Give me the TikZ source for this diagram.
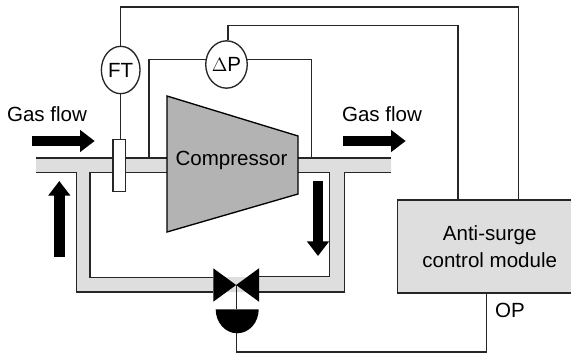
\documentclass[tikz,border=0pt]{standalone}
\usepackage{fontspec}
\setmainfont{Liberation Sans}
\usetikzlibrary{arrows.meta,calc,shapes.geometric}
\definecolor{pipegray}{RGB}{222,222,222}
\definecolor{compgray}{RGB}{179,179,179}
\tikzset{
	wire/.style={draw=black!85, line width=1pt},
	meter/.style={ellipse, draw=black!85, line width=1pt, fill=white, inner sep=0pt, minimum width=29pt, minimum height=35.5pt, font=\fontsize{15.4}{18}\selectfont},
	flowarrow/.style={line width=8pt, -{Triangle[length=11pt, width=16pt]}},
	label/.style={font=\fontsize{15.4}{18}\selectfont, inner sep=0pt}
}

\begin{document}
\begin{tikzpicture}[x=0.75pt, y=-0.75pt]
				\clip (0,0) rectangle (571,353);
				\fill[pipegray] (36,158) -- (391,158) -- (391,172.5) -- (344.7,172.5) -- (344.7,292) -- (76.7,292) -- (76.7,172.5) -- (36,172.5) -- cycle;
				\fill[white] (90,172.5) rectangle (329.7,277);
				\draw[wire] (36,158) -- (391,158);
				\draw[wire] (36,172.5) -- (76.7,172.5) -- (76.7,292) -- (213,292);
				\draw[wire] (167,172.5) -- (90,172.5) -- (90,277.5) -- (213,277.5);
				\draw[wire] (298,172.5) -- (329.7,172.5) -- (329.7,276.5) -- (259,276.5);
				\draw[wire] (391,172.5) -- (344.7,172.5) -- (344.7,292) -- (259,292);
				
				\node[meter] (ft) at (120.7,70) {FT};
				\node[meter] (dp) at (226.5,64.5) {{\fontsize{14}{16}\selectfont$\Delta$}P};
				\node[rectangle, draw=black!85, line width=1pt, fill=pipegray, minimum width=138pt, minimum height=69.7pt, inner sep=0pt, align=center, label] (module) at (489.7,246.5) {Anti-surge\\[2.2pt]control module};
				\node[rectangle, draw=black!85, line width=1pt, fill=white, minimum width=9.4pt, minimum height=39pt, inner sep=0pt] (tube) at (119.2,165.8) {};
				\path[fill=compgray, draw=black, line width=1pt] (167,96) -- (298,136) -- (298,194) -- (167,232) -- cycle;
				\node[label, anchor=center] (comp) at (231.5,160) {Compressor};
				
				\coordinate (fttop) at (120.7,7);
				\coordinate (ftright) at (518.7,7);
				\coordinate (dptop) at (228,25.5);
				\coordinate (dpright) at (458,25.5);
				\coordinate (dpleft) at (149,158);
				\coordinate (dpend) at (311.7,158);
				\draw[wire] (ft.north) -- (fttop) -- (ftright) -- (ftright |- module.north);
				\draw[wire] (dp.north -| dptop) -- (dptop) -- (dpright) -- (dpright |- module.north);
				\draw[wire] (ft.south) -- (ft.south |- tube.north);
				\draw[wire] (dp.166) -| (dpleft);
				\draw[wire] (dp.14) -| (dpend);
				
				\coordinate (valve) at (236.5,285);
				\fill[black] (213.3,268.3) -- (259,301.7) -- (259,268.3) -- (213.3,301.7) -- cycle;
				\fill[black] (215.7,309.3) -- (258.7,309.3) arc[start angle=0, end angle=180, x radius=21.5, y radius=24] -- cycle;
				\coordinate (acttop) at (236.5,309.3);
				\coordinate (actbottom) at (236.5,333);
				\coordinate (oploop) at (236.5,352);
				\coordinate (opright) at (486.3,352);
				\draw[wire] (valve) -- (acttop);
				\draw[wire] (actbottom) -- (oploop) -- (opright) -- (opright |- module.south);
				
				\coordinate (inleft) at (32,141);
				\coordinate (intip) at (94.7,141);
				\coordinate (outleft) at (343,141);
				\coordinate (outtip) at (405.7,141);
				\coordinate (upbase) at (59.3,256.7);
				\coordinate (uptip) at (59.3,181);
				\coordinate (downbase) at (318,180.7);
				\coordinate (downtip) at (318,256);
				\draw[flowarrow] (inleft) -- (intip);
				\draw[flowarrow] (outleft) -- (outtip);
				\draw[flowarrow] (upbase) -- (uptip);
				\draw[flowarrow] (downbase) -- (downtip);
				
				\node[label] (gasin) at (47,114) {Gas flow};
				\node[label] (gasout) at (382,114) {Gas flow};
				\node[label] (op) at (510,310) {OP};
			\end{tikzpicture}
\end{document}
